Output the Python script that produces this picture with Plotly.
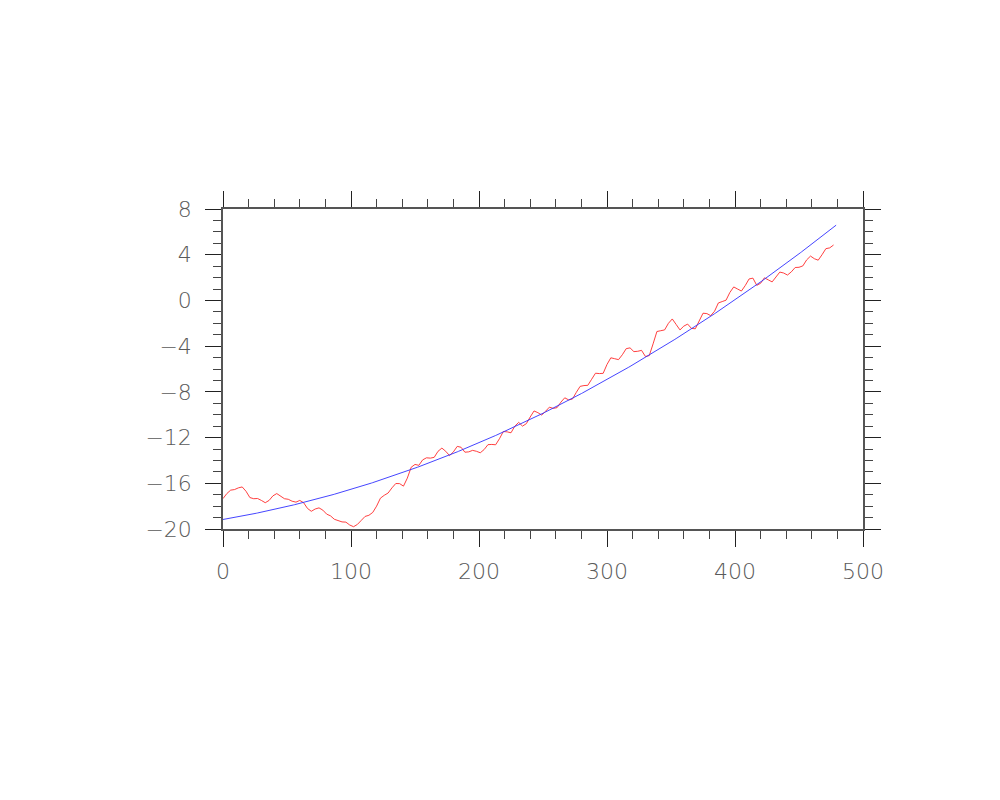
import numpy as np
import plotly.graph_objects as go

# time index (months), sampled every 3
x_red = list(range(0, 480, 3))
y_red = [
    -17.34, -16.90, -16.60, -16.55, -16.40, -16.32, -16.70, -17.25, -17.35, -17.33,
    -17.50, -17.70, -17.50, -17.10, -16.90, -17.15, -17.35, -17.40, -17.57, -17.65,
    -17.50, -17.70, -18.20, -18.45, -18.25, -18.15, -18.35, -18.70, -18.85, -19.15,
    -19.25, -19.38, -19.40, -19.65, -19.80, -19.60, -19.25, -18.90, -18.80, -18.55,
    -18.00, -17.30, -17.05, -16.85, -16.40, -16.02, -16.03, -16.25, -15.55, -14.60,
    -14.35, -14.43, -13.95, -13.77, -13.80, -13.73, -13.20, -12.92, -13.20, -13.58,
    -13.25, -12.77, -12.85, -13.28, -13.25, -13.12, -13.20, -13.33, -13.05, -12.62,
    -12.60, -12.63, -12.10, -11.47, -11.50, -11.58, -11.00, -10.67, -11.00, -10.78,
    -10.20, -9.67, -9.82, -10.03, -9.70, -9.34, -9.45, -9.38, -8.90, -8.52,
    -8.70, -8.63, -8.05, -7.52, -7.45, -7.43, -6.90, -6.37, -6.40, -6.38,
    -5.60, -5.02, -5.10, -5.18, -4.75, -4.22, -4.15, -4.48, -4.45, -4.37,
    -4.90, -4.83, -3.80, -2.72, -2.65, -2.58, -2.00, -1.62, -2.10, -2.58,
    -2.25, -2.07, -2.45, -2.48, -1.80, -1.12, -1.15, -1.33, -0.95, -0.22,
    -0.10, 0.02, 0.70, 1.18, 1.00, 0.82, 1.30, 1.88, 1.95, 1.32,
    1.50, 1.98, 1.80, 1.62, 2.05, 2.48, 2.40, 2.22, 2.50, 2.88,
    2.90, 3.02, 3.55, 3.88, 3.65, 3.52, 4.00, 4.53, 4.60, 4.85,
]

x_tick_vals = [0, 100, 200, 300, 400, 500]
y_tick_vals = [-20, -16, -12, -8, -4, 0, 4, 8]

# quadratic trend fitted to the red series
coef = np.polyfit(x_red, y_red, 2)
x_fit = np.arange(0, 480)
y_fit = np.polyval(coef, x_fit)

fig = go.Figure()
fig.add_trace(go.Scatter(x=x_red, y=y_red, mode="lines",
                         line=dict(color="#ff2a2a", width=0.9), showlegend=False))
fig.add_trace(go.Scatter(x=x_fit, y=y_fit, mode="lines",
                         line=dict(color="#3030ff", width=0.9), showlegend=False))

font = dict(family="DejaVu Sans", size=22, color="#5a5a5a", weight=300)
axis_common = dict(
    showgrid=False, zeroline=False, showline=True, linecolor="#555555", linewidth=1.5,
    mirror="ticks", ticks="outside", ticklen=16, tickwidth=1.2, tickcolor="#222222",
    tickfont=font,
)
fig.update_xaxes(range=[0, 500], tickvals=x_tick_vals, ticklabelstandoff=6,
                 minor=dict(dtick=20, ticks="outside", ticklen=8, tickwidth=1, tickcolor="#444444"),
                 **axis_common)
fig.update_yaxes(range=[-20, 8], tickvals=y_tick_vals, ticklabelstandoff=9,
                 minor=dict(dtick=1, ticks="outside", ticklen=8, tickwidth=1, tickcolor="#444444"),
                 **axis_common)
fig.update_layout(width=1000, height=800, plot_bgcolor="white", paper_bgcolor="white",
                  margin=dict(l=215, r=145, t=201, b=279, autoexpand=False))
fig.write_html("out.html")
